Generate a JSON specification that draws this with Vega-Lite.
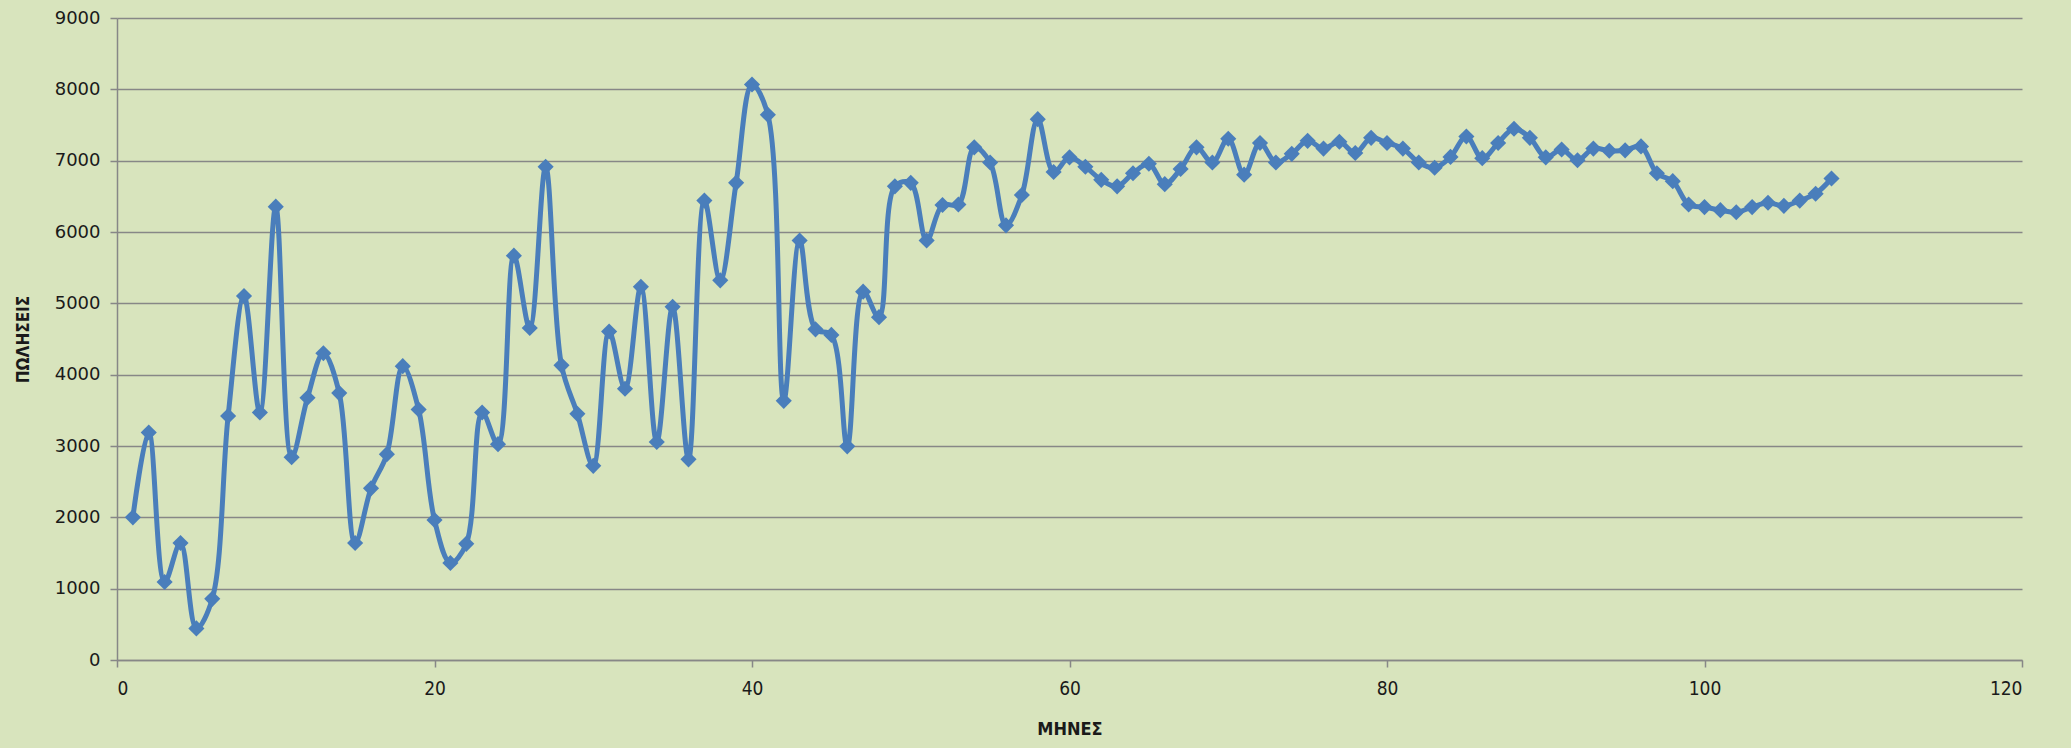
{
  "$schema": "https://vega.github.io/schema/vega-lite/v6.json",
  "autosize": {"type": "none"},
  "width": 1905,
  "height": 642,
  "padding": {"left": 117, "top": 18, "right": 49, "bottom": 88},
  "background": "#d8e4bd",
  "config": {
    "view": {"stroke": null},
    "axis": {
      "domainColor": "#878787",
      "domainWidth": 1.5,
      "tickColor": "#878787",
      "tickWidth": 1.5,
      "tickSize": 7,
      "labelColor": "#1a1a1a",
      "titleColor": "#1a1a1a"
    }
  },
  "data": {
    "values": [
      {"month": 1, "sales": 2000}, {"month": 2, "sales": 3190}, {"month": 3, "sales": 1094},
      {"month": 4, "sales": 1640}, {"month": 5, "sales": 443}, {"month": 6, "sales": 857},
      {"month": 7, "sales": 3420}, {"month": 8, "sales": 5103}, {"month": 9, "sales": 3469},
      {"month": 10, "sales": 6355}, {"month": 11, "sales": 2843}, {"month": 12, "sales": 3676},
      {"month": 13, "sales": 4301}, {"month": 14, "sales": 3742}, {"month": 15, "sales": 1640},
      {"month": 16, "sales": 2406}, {"month": 17, "sales": 2886}, {"month": 18, "sales": 4119},
      {"month": 19, "sales": 3512}, {"month": 20, "sales": 1962}, {"month": 21, "sales": 1360},
      {"month": 22, "sales": 1628}, {"month": 23, "sales": 3469}, {"month": 24, "sales": 3026},
      {"month": 25, "sales": 5668}, {"month": 26, "sales": 4654}, {"month": 27, "sales": 6914},
      {"month": 28, "sales": 4131}, {"month": 29, "sales": 3451}, {"month": 30, "sales": 2722},
      {"month": 31, "sales": 4605}, {"month": 32, "sales": 3803}, {"month": 33, "sales": 5231},
      {"month": 34, "sales": 3056}, {"month": 35, "sales": 4951}, {"month": 36, "sales": 2813},
      {"month": 37, "sales": 6440}, {"month": 38, "sales": 5322}, {"month": 39, "sales": 6689},
      {"month": 40, "sales": 8068}, {"month": 41, "sales": 7643}, {"month": 42, "sales": 3633},
      {"month": 43, "sales": 5881}, {"month": 44, "sales": 4635}, {"month": 45, "sales": 4557},
      {"month": 46, "sales": 2995}, {"month": 47, "sales": 5164}, {"month": 48, "sales": 4806},
      {"month": 49, "sales": 6640}, {"month": 50, "sales": 6689}, {"month": 51, "sales": 5881},
      {"month": 52, "sales": 6379}, {"month": 53, "sales": 6385}, {"month": 54, "sales": 7187},
      {"month": 55, "sales": 6974}, {"month": 56, "sales": 6093}, {"month": 57, "sales": 6519},
      {"month": 58, "sales": 7582}, {"month": 59, "sales": 6841}, {"month": 60, "sales": 7047},
      {"month": 61, "sales": 6914}, {"month": 62, "sales": 6731}, {"month": 63, "sales": 6640},
      {"month": 64, "sales": 6823}, {"month": 65, "sales": 6956}, {"month": 66, "sales": 6671},
      {"month": 67, "sales": 6883}, {"month": 68, "sales": 7187}, {"month": 69, "sales": 6974},
      {"month": 70, "sales": 7308}, {"month": 71, "sales": 6804}, {"month": 72, "sales": 7248},
      {"month": 73, "sales": 6974}, {"month": 74, "sales": 7096}, {"month": 75, "sales": 7278},
      {"month": 76, "sales": 7169}, {"month": 77, "sales": 7266}, {"month": 78, "sales": 7108},
      {"month": 79, "sales": 7320}, {"month": 80, "sales": 7248}, {"month": 81, "sales": 7169},
      {"month": 82, "sales": 6974}, {"month": 83, "sales": 6900}, {"month": 84, "sales": 7053},
      {"month": 85, "sales": 7339}, {"month": 86, "sales": 7035}, {"month": 87, "sales": 7248},
      {"month": 88, "sales": 7448}, {"month": 89, "sales": 7320}, {"month": 90, "sales": 7047},
      {"month": 91, "sales": 7157}, {"month": 92, "sales": 7005}, {"month": 93, "sales": 7169},
      {"month": 94, "sales": 7139}, {"month": 95, "sales": 7145}, {"month": 96, "sales": 7200},
      {"month": 97, "sales": 6823}, {"month": 98, "sales": 6713}, {"month": 99, "sales": 6385},
      {"month": 100, "sales": 6349}, {"month": 101, "sales": 6306}, {"month": 102, "sales": 6276},
      {"month": 103, "sales": 6349}, {"month": 104, "sales": 6410}, {"month": 105, "sales": 6367},
      {"month": 106, "sales": 6440}, {"month": 107, "sales": 6537}, {"month": 108, "sales": 6750}
    ]
  },
  "encoding": {
    "x": {
      "field": "month",
      "type": "quantitative",
      "scale": {"domain": [0, 120], "nice": false, "zero": true},
      "axis": {
        "title": "ΜΗΝΕΣ",
        "values": [0, 20, 40, 60, 80, 100, 120],
        "format": "d",
        "grid": false,
        "labelFont": "DejaVu Sans Condensed",
        "labelFontSize": 19,
        "labelPadding": 12,
        "titleFont": "DejaVu Sans Condensed",
        "titleFontSize": 18,
        "titleFontWeight": "bold",
        "titlePadding": 22
      }
    },
    "y": {
      "field": "sales",
      "type": "quantitative",
      "scale": {"domain": [0, 9000], "nice": false},
      "axis": {
        "title": "ΠΩΛΗΣΕΙΣ",
        "values": [0, 1000, 2000, 3000, 4000, 5000, 6000, 7000, 8000, 9000],
        "format": "d",
        "grid": true,
        "gridColor": "#878787",
        "gridWidth": 1.6,
        "gridOpacity": 1,
        "labelFont": "DejaVu Sans",
        "labelFontSize": 18,
        "labelPadding": 10,
        "titleFont": "DejaVu Sans Condensed",
        "titleFontSize": 17,
        "titleFontWeight": "bold",
        "titlePadding": 22
      }
    }
  },
  "layer": [
    {
      "mark": {
        "type": "line",
        "interpolate": "catmull-rom",
        "color": "#4a7ebb",
        "strokeWidth": 5
      }
    },
    {
      "mark": {
        "type": "point",
        "shape": "diamond",
        "filled": true,
        "opacity": 1,
        "color": "#4a7ebb",
        "size": 260
      }
    }
  ]
}
